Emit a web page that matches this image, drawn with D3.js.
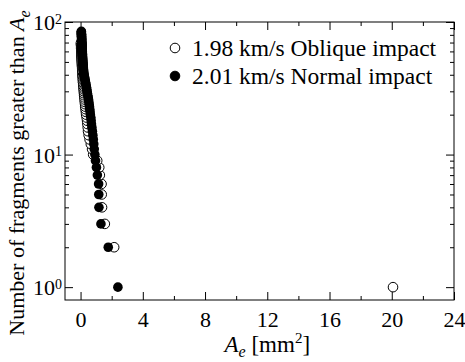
<!DOCTYPE html>
<html>
<head>
<meta charset="utf-8">
<script src="https://cdn.jsdelivr.net/npm/d3@7"></script>
<style>
  body { margin: 0; background: #fff; }
</style>
</head>
<body>
<svg id="chart"></svg>
<script>
// Ae [mm^2] of each fragment, sorted largest first; the count greater than Ae is the rank
const obliqueAe = [
  20.08, 2.16, 1.56, 1.38, 1.36, 1.35, 1.24, 1.20, 1.07, 0.81,
  0.74, 0.66, 0.58, 0.52, 0.48, 0.46, 0.44, 0.42, 0.39, 0.36,
  0.34, 0.32, 0.30, 0.29, 0.27, 0.26, 0.24, 0.23, 0.22, 0.21,
  0.20, 0.19, 0.18, 0.17, 0.16, 0.15, 0.15, 0.14, 0.13, 0.13,
  0.12, 0.12, 0.11, 0.11, 0.10, 0.10, 0.09, 0.09, 0.09, 0.08,
  0.08, 0.08, 0.07, 0.07, 0.07, 0.06, 0.06, 0.06, 0.05, 0.05,
  0.05, 0.05, 0.04, 0.04, 0.04, 0.04, 0.03, 0.03, 0.03, 0.03
];
const normalAe = [
  2.40, 1.78, 1.31, 1.18, 1.17, 1.16, 1.08, 1.02, 0.96, 0.92,
  0.88, 0.85, 0.82, 0.79, 0.76, 0.73, 0.70, 0.68, 0.66, 0.63,
  0.61, 0.59, 0.57, 0.55, 0.53, 0.51, 0.49, 0.46, 0.44, 0.42,
  0.40, 0.38, 0.36, 0.34, 0.32, 0.30, 0.28, 0.26, 0.24, 0.22,
  0.21, 0.20, 0.19, 0.18, 0.18, 0.17, 0.16, 0.16, 0.15, 0.15,
  0.14, 0.14, 0.13, 0.13, 0.12, 0.12, 0.12, 0.11, 0.11, 0.11,
  0.10, 0.10, 0.10, 0.09, 0.09, 0.09, 0.09, 0.08, 0.08, 0.08,
  0.08, 0.07, 0.07, 0.07, 0.07, 0.07, 0.06, 0.06, 0.06, 0.06,
  0.06, 0.05, 0.05, 0.05, 0.05
];
const seriesNames = ["1.98 km/s Oblique impact", "2.01 km/s Normal impact"];
const xTicks = [0, 4, 8, 12, 16, 20, 24];
const xMinorTicks = [2, 6, 10, 14, 18, 22];
const yTicks = [1, 10, 100];
const yMinorTicks = [2, 3, 4, 5, 6, 7, 8, 9, 20, 30, 40, 50, 60, 70, 80, 90];

const FONT = "'Liberation Serif', 'Times New Roman', Times, serif";

const W = 465, H = 362;
const margin = { top: 22, right: 11, bottom: 62, left: 65 };
const width = W - margin.left - margin.right;
const height = H - margin.top - margin.bottom;

const svg = d3.select("#chart").attr("width", W).attr("height", H);
const chart = svg.append("g").attr("transform", `translate(${margin.left},${margin.top})`);

const x = d3.scaleLinear().domain([-1, 24]).range([0, width]);
const y = d3.scaleLog().domain([0.8, 100]).range([height, 0]);

// axes, ticks pointing inward on all four sides
function styleAxis(g) {
  g.attr("font-family", null).attr("font-size", null);
  g.select(".domain").remove();
  g.selectAll("line").attr("stroke", "#000").attr("stroke-width", 1);
}

chart.append("g").attr("transform", `translate(0,${height})`)
  .call(d3.axisBottom(x).tickValues(xTicks).tickSize(-8).tickPadding(11).tickFormat(d3.format("d")))
  .call(styleAxis)
  .selectAll("text").style("font-family", FONT).style("font-size", "22px").attr("fill", "#000");
chart.append("g").attr("transform", `translate(0,${height})`)
  .call(d3.axisBottom(x).tickValues(xMinorTicks).tickSize(-4).tickFormat(""))
  .call(styleAxis);
chart.append("g")
  .call(d3.axisTop(x).tickValues(xTicks).tickSize(-8).tickFormat(""))
  .call(styleAxis);
chart.append("g")
  .call(d3.axisTop(x).tickValues(xMinorTicks).tickSize(-4).tickFormat(""))
  .call(styleAxis);

const yAxisG = chart.append("g")
  .call(d3.axisLeft(y).tickValues(yTicks).tickSize(-8).tickPadding(12).tickFormat(""))
  .call(styleAxis);
chart.append("g")
  .call(d3.axisLeft(y).tickValues(yMinorTicks).tickSize(-4).tickFormat(""))
  .call(styleAxis);
chart.append("g").attr("transform", `translate(${width},0)`)
  .call(d3.axisRight(y).tickValues(yTicks).tickSize(-8).tickFormat(""))
  .call(styleAxis);
chart.append("g").attr("transform", `translate(${width},0)`)
  .call(d3.axisRight(y).tickValues(yMinorTicks).tickSize(-4).tickFormat(""))
  .call(styleAxis);

// power-of-ten labels
yAxisG.selectAll(".tick text").each(function(d) {
  const t = d3.select(this)
    .attr("dy", "0.35em")
    .attr("x", -3)
    .attr("fill", "#000")
    .style("font-family", FONT)
    .style("font-size", "22px");
  t.append("tspan").text("10");
  t.append("tspan").attr("dy", "-0.45em").style("font-size", "14px").text(Math.round(Math.log10(d)));
});

// frame
chart.append("rect")
  .attr("width", width).attr("height", height)
  .attr("fill", "none").attr("stroke", "#000").attr("stroke-width", 1);

// points
const r = 4.8;
chart.append("g").selectAll("circle")
  .data(obliqueAe)
  .join("circle")
    .attr("cx", d => x(d))
    .attr("cy", (d, i) => y(i + 1))
    .attr("r", r)
    .attr("fill", "#fff")
    .attr("stroke", "#000")
    .attr("stroke-width", 1);

chart.append("g").selectAll("circle")
  .data(normalAe)
  .join("circle")
    .attr("cx", d => x(d))
    .attr("cy", (d, i) => y(i + 1))
    .attr("r", r)
    .attr("fill", "#000");

// legend
const legend = chart.append("g").attr("transform", "translate(110,26)");
legend.selectAll("circle")
  .data(seriesNames)
  .join("circle")
    .attr("cx", 0)
    .attr("cy", (d, i) => i * 28)
    .attr("r", r)
    .attr("fill", (d, i) => i === 0 ? "#fff" : "#000")
    .attr("stroke", "#000")
    .attr("stroke-width", 1);
legend.selectAll("text")
  .data(seriesNames)
  .join("text")
    .attr("x", 17)
    .attr("y", (d, i) => i * 28)
    .attr("dy", "0.35em")
    .style("font-family", FONT)
    .style("font-size", "23.5px")
    .text(d => d);

// axis titles
const xTitle = svg.append("text")
  .attr("x", margin.left + x(12))
  .attr("y", 352)
  .attr("text-anchor", "middle")
  .style("font-family", FONT)
  .style("font-size", "23px");
xTitle.append("tspan").style("font-style", "italic").text("A");
xTitle.append("tspan").attr("dy", 5).style("font-style", "italic").style("font-size", "16px").text("e");
xTitle.append("tspan").attr("dy", -5).text(" [mm");
xTitle.append("tspan").attr("dy", -9).style("font-size", "15px").text("2");
xTitle.append("tspan").attr("dy", 9).text("]");

const yTitle = svg.append("text")
  .attr("transform", `translate(24,173) rotate(-90)`)
  .attr("text-anchor", "middle")
  .style("font-family", FONT)
  .style("font-size", "22px");
yTitle.append("tspan").text("Number of fragments greater than ");
yTitle.append("tspan").style("font-style", "italic").text("A");
yTitle.append("tspan").attr("dy", 6).style("font-style", "italic").style("font-size", "16px").text("e");
</script>
</body>
</html>
